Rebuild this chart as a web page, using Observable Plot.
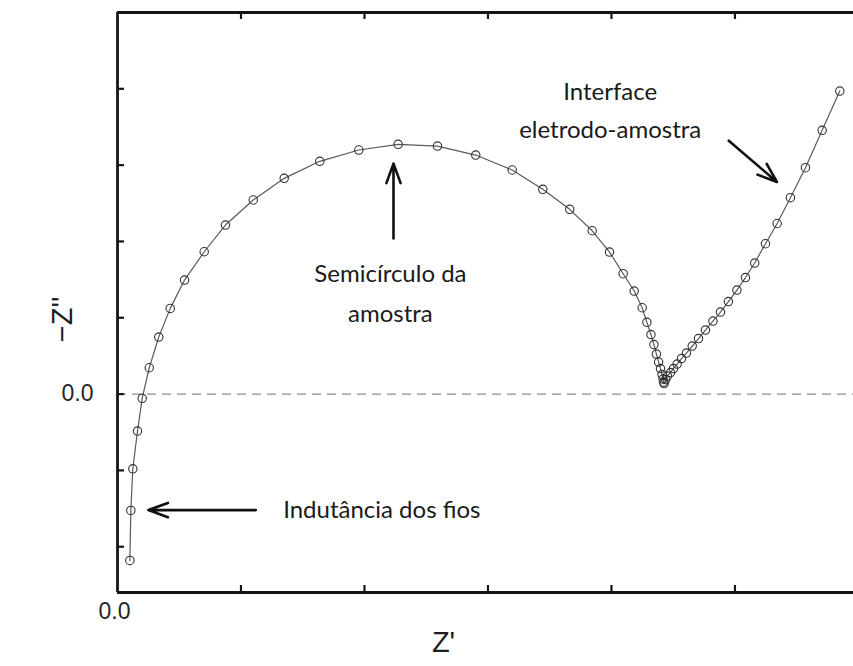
<!DOCTYPE html>
<html>
<head>
<meta charset="utf-8">
<script src="https://cdn.jsdelivr.net/npm/d3@7"></script>
<script src="https://cdn.jsdelivr.net/npm/@observablehq/plot@0.6"></script>
<style>
  html, body { margin: 0; padding: 0; background: #fff; overflow: hidden; }
  #chart svg { display: block; }
</style>
</head>
<body>
<div id="chart"></div>
<script>
// Impedance spectrum (Nyquist plot): real part Z' vs. negative imaginary part -Z''
const zReal = [
  0.100, 0.108, 0.124, 0.162, 0.200, 0.257, 0.334, 0.427, 0.543, 0.702,
  0.874, 1.099, 1.350, 1.638, 1.954, 2.273, 2.591, 2.901, 3.196, 3.444,
  3.662, 3.844, 3.984, 4.095, 4.184, 4.249, 4.287, 4.320, 4.344, 4.364,
  4.382, 4.397, 4.410, 4.418, 4.423, 4.426, 4.439, 4.453, 4.478, 4.502,
  4.532, 4.567, 4.607, 4.654, 4.705, 4.761, 4.822, 4.883, 4.947, 5.016,
  5.085, 5.160, 5.247, 5.342, 5.449, 5.571, 5.706, 5.849
];
const zImagNeg = [
  -2.180, -1.524, -0.979, -0.485, -0.056, 0.345, 0.747, 1.123, 1.494, 1.865,
  2.215, 2.543, 2.827, 3.050, 3.198, 3.273, 3.250, 3.132, 2.936, 2.683,
  2.421, 2.140, 1.861, 1.577, 1.350, 1.131, 0.940, 0.780, 0.649, 0.524,
  0.419, 0.334, 0.256, 0.197, 0.157, 0.138, 0.190, 0.236, 0.282, 0.334,
  0.393, 0.465, 0.537, 0.629, 0.727, 0.839, 0.957, 1.075, 1.212, 1.363,
  1.527, 1.717, 1.970, 2.235, 2.573, 2.966, 3.456, 3.971
];

// Axis ranges and tick positions
const xDomain = [0, 5.96];
const yDomain = [-2.6, 5.0];
const xTicks = [1, 2, 3, 4, 5];
const yTicks = [-2, -1, 0, 1, 2, 3, 4];
const tickLabels = [0];

// Annotations: text lines and arrows (in data units)
const notes = [
  {text: "Interface", x: 3.99, y: 3.95},
  {text: "eletrodo-amostra", x: 3.99, y: 3.45},
  {text: "Semicírculo da", x: 2.21, y: 1.57},
  {text: "amostra", x: 2.21, y: 1.05},
  {text: "Indutância dos fios", x: 2.14, y: -1.52}
];
const arrows = [
  {x1: 4.95, y1: 3.32, x2: 5.34, y2: 2.78},
  {x1: 2.235, y1: 2.04, x2: 2.235, y2: 3.02},
  {x1: 1.12, y1: -1.52, x2: 0.25, y2: -1.52}
];

const points = zReal.map((x, i) => ({x, y: zImagNeg[i]}));

const W = 853, H = 666;
const mL = 117, mR = 0, mT = 12, mB = 74;
const plotW = W - mL - mR, plotH = H - mT - mB;
const tickLen = 7;
const sans = "Liberation Sans, Arial, sans-serif";

const chart = Plot.plot({
  width: W,
  height: H,
  marginLeft: mL,
  marginRight: mR,
  marginTop: mT,
  marginBottom: mB,
  x: {domain: xDomain, axis: null},
  y: {domain: yDomain, axis: null},
  style: {background: "#fff"},
  marks: [
    // zero reference line
    Plot.ruleY([0], {stroke: "#8a8a8a", strokeWidth: 1.4, strokeDasharray: "9,6"}),
    // data: connecting line and open circles
    Plot.line(points, {x: "x", y: "y", stroke: "#5a5a5a", strokeWidth: 1.2}),
    Plot.dot(points, {x: "x", y: "y", r: 4.2, stroke: "#333", strokeWidth: 1.1, fill: "none"}),
    // frame: left, top, bottom
    Plot.ruleX([xDomain[0]], {stroke: "#151515", strokeWidth: 2.8}),
    Plot.ruleY([yDomain[0], yDomain[1]], {stroke: "#151515", strokeWidth: 2.8}),
    // inward ticks
    Plot.ruleX(xTicks, {x: d => d, insetTop: plotH - tickLen, stroke: "#151515", strokeWidth: 2.2}),
    Plot.ruleX(xTicks, {x: d => d, insetBottom: plotH - tickLen, stroke: "#151515", strokeWidth: 2.2}),
    Plot.ruleY(yTicks, {y: d => d, insetRight: plotW - tickLen, stroke: "#151515", strokeWidth: 2.2}),
    // tick labels
    Plot.text(tickLabels, {x: d => d, frameAnchor: "bottom", dy: 26, dx: -3, text: d => d3.format(".1f")(d),
      fontSize: 23, fontFamily: sans, fill: "#262626"}),
    Plot.text(tickLabels, {y: d => d, frameAnchor: "left", dx: -24, textAnchor: "end", text: d => d3.format(".1f")(d),
      fontSize: 23, fontFamily: sans, fill: "#262626"}),
    // axis titles
    Plot.text(["Z'"], {x: 2.64, frameAnchor: "bottom", dy: 59, text: d => d,
      fontSize: 29, fontFamily: sans, fill: "#1e1e1e"}),
    Plot.text(["\u2212Z''"], {y: 0.68, frameAnchor: "left", dx: -55, rotate: -90, text: d => d,
      fontSize: 29, fontFamily: sans, fill: "#1e1e1e"}),
    // annotations
    Plot.text(notes, {x: "x", y: "y", text: "text", fontSize: 24, fontFamily: "Lato, 'Open Sans', sans-serif", fill: "#1a1a1a"}),
    Plot.arrow(arrows, {x1: "x1", y1: "y1", x2: "x2", y2: "y2", stroke: "#111", strokeWidth: 2.6,
      headLength: 12, headAngle: 40})
  ]
});

document.getElementById("chart").append(chart);
</script>
</body>
</html>
